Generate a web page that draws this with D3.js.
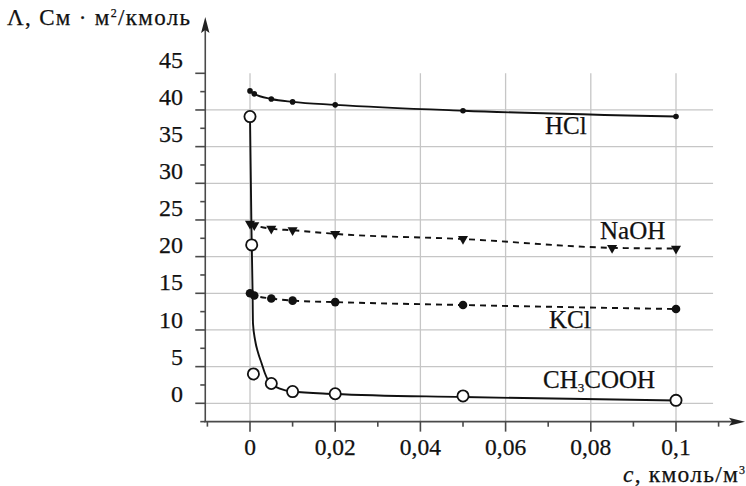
<!DOCTYPE html>
<html><head><meta charset="utf-8">
<script src="https://cdn.jsdelivr.net/npm/d3@7"></script>
<style>html,body{margin:0;padding:0;background:#fff;}svg{display:block;}</style>
</head><body>
<svg id="c" width="746" height="486"></svg>
<script>
// ---- data ----
const xTickValues = [-0.01, 0, 0.01, 0.02, 0.03, 0.04, 0.05, 0.06, 0.07, 0.08, 0.09, 0.1, 0.11];
const xLabelValues = [0, 0.02, 0.04, 0.06, 0.08, 0.1];
const xLabelTexts = ["0", "0,02", "0,04", "0,06", "0,08", "0,1"];
const yTickValues = [-2.5, 0, 2.5, 5, 7.5, 10, 12.5, 15, 17.5, 20, 22.5, 25, 27.5, 30, 32.5, 35, 37.5, 40, 42.5, 45];
const yLabelValues = [0, 5, 10, 15, 20, 25, 30, 35, 40, 45];
const yGridValues = [0, 5, 10, 15, 20, 25, 30, 35, 40];

const hclC  = [0, 0.001, 0.005, 0.01, 0.02, 0.05, 0.1];
const hclL  = [42.6, 42.2, 41.5, 41.1, 40.7, 39.9, 39.1];
const naohC = [0, 0.001, 0.005, 0.01, 0.02, 0.05, 0.085, 0.1];
const naohL = [24.5, 24.3, 23.8, 23.6, 23.1, 22.4, 21.2, 21.1];
const kclC  = [0, 0.001, 0.005, 0.01, 0.02, 0.05, 0.1];
const kclL  = [15.0, 14.7, 14.3, 14.0, 13.8, 13.4, 12.85];
const acC   = [0, 0.0004, 0.0008, 0.005, 0.01, 0.02, 0.05, 0.1];
const acL   = [39.1, 21.6, 4.0, 2.7, 1.6, 1.3, 1.0, 0.4];
// smooth fitted curve for CH3COOH
const acFitC = [0, 0.00035, 0.0006, 0.0007, 0.0012, 0.0019, 0.0027, 0.0035, 0.0042, 0.0049, 0.007, 0.0098, 0.0198, 0.05, 0.1];
const acFitL = [39.1, 23.6, 15.4, 10.9, 8.6, 6.9, 5.5, 4.1, 3.2, 2.7, 2.0, 1.6, 1.27, 0.85, 0.38];

// ---- drawing ----
const svg = d3.select("#c");
const SERIF = "Liberation Serif, serif";
const x = d3.scaleLinear().domain([0, 0.1]).range([250, 676]);
const y = d3.scaleLinear().domain([0, 45]).range([403.3, 73.3]);
const yLab = d3.scaleLinear().domain([0, 45]).range([401.7, 68]); // label baselines (offset in original)
const axisColor = "#4a4a4a", gridColor = "#c6c6c6", ink = "#111";

const xAxisY = y(-2.5), yAxisX = x(-0.0105);
const gridRight = x(0.1087), gridTop = y(45);

// grid
svg.append("g").selectAll("line").data(yGridValues).join("line")
  .attr("x1", yAxisX).attr("x2", gridRight).attr("y1", d => y(d)).attr("y2", d => y(d))
  .attr("stroke", gridColor).attr("stroke-width", 1.3);
svg.append("g").selectAll("line").data(xLabelValues).join("line")
  .attr("x1", d => x(d)).attr("x2", d => x(d)).attr("y1", gridTop).attr("y2", xAxisY)
  .attr("stroke", gridColor).attr("stroke-width", 1.3);

// axes lines
svg.append("line").attr("x1", yAxisX).attr("x2", yAxisX).attr("y1", 30).attr("y2", xAxisY)
  .attr("stroke", axisColor).attr("stroke-width", 1.6);
svg.append("line").attr("x1", yAxisX - 1).attr("x2", 733).attr("y1", xAxisY).attr("y2", xAxisY)
  .attr("stroke", axisColor).attr("stroke-width", 1.6);
// arrowheads
svg.append("path").attr("d", `M${yAxisX},17 L${yAxisX + 4.2},33 L${yAxisX},30 L${yAxisX - 4.2},33 Z`).attr("fill", "#222");
svg.append("path").attr("d", `M745,${xAxisY} L729,${xAxisY - 4} L732,${xAxisY} L729,${xAxisY + 4} Z`).attr("fill", "#222");

// ticks
const isMajorY = d => Math.abs(d / 5 - Math.round(d / 5)) < 1e-6;
svg.append("g").selectAll("line").data(yTickValues).join("line")
  .attr("x1", d => yAxisX - (isMajorY(d) ? 10 : 5)).attr("x2", yAxisX)
  .attr("y1", d => y(d)).attr("y2", d => y(d))
  .attr("stroke", axisColor).attr("stroke-width", 1.6);
const isMajorX = d => Math.abs(d / 0.02 - Math.round(d / 0.02)) < 1e-6;
svg.append("g").selectAll("line").data(xTickValues).join("line")
  .attr("x1", d => x(d)).attr("x2", d => x(d))
  .attr("y1", xAxisY).attr("y2", d => xAxisY + (isMajorX(d) ? 10 : 5))
  .attr("stroke", axisColor).attr("stroke-width", 1.6);

const txt = sel => sel.attr("font-family", SERIF).attr("fill", ink).attr("stroke", ink).attr("stroke-width", 0.25);

// tick labels
txt(svg.append("g").selectAll("text").data(yLabelValues).join("text")
  .attr("x", 183).attr("y", d => yLab(d)).attr("text-anchor", "end")
  .attr("font-size", 24).text(d => d));
txt(svg.append("g").selectAll("text").data(xLabelValues).join("text")
  .attr("x", d => x(d)).attr("y", 455).attr("text-anchor", "middle")
  .attr("font-size", 23.5).text((d, i) => xLabelTexts[i]));

// axis titles
const yt = txt(svg.append("text").attr("x", 7).attr("y", 25).attr("font-size", 23)
  .attr("textLength", 183).attr("lengthAdjust", "spacing"));
yt.append("tspan").text("Λ, См · м");
yt.append("tspan").attr("font-size", 12).attr("dy", -8).text("2");
yt.append("tspan").attr("dy", 8).text("/кмоль");
const xt = txt(svg.append("text").attr("x", 745).attr("y", 482).attr("text-anchor", "end").attr("font-size", 23.5)
  .attr("textLength", 122).attr("lengthAdjust", "spacing"));
xt.append("tspan").attr("font-style", "italic").text("c");
xt.append("tspan").text(", кмоль/м");
xt.append("tspan").attr("font-size", 12).attr("dy", -8).text("3");

// lines
const line = d3.line().x(d => x(d[0])).y(d => y(d[1])).curve(d3.curveMonotoneX);
const zip = (a, b) => a.map((v, i) => [v, b[i]]);
svg.append("path").attr("d", line(zip(hclC, hclL))).attr("fill", "none").attr("stroke", ink).attr("stroke-width", 1.9);
svg.append("path").attr("d", line(zip(naohC, naohL))).attr("fill", "none").attr("stroke", ink).attr("stroke-width", 1.9).attr("stroke-dasharray", "6,5");
svg.append("path").attr("d", line(zip(kclC, kclL))).attr("fill", "none").attr("stroke", ink).attr("stroke-width", 1.9).attr("stroke-dasharray", "6,5");
svg.append("path").attr("d", line(zip(acFitC, acFitL))).attr("fill", "none").attr("stroke", ink).attr("stroke-width", 1.9);

// markers
svg.append("g").selectAll("circle").data(zip(hclC, hclL)).join("circle")
  .attr("cx", d => x(d[0])).attr("cy", d => y(d[1])).attr("r", 2.8).attr("fill", ink);
svg.append("g").selectAll("path").data(zip(naohC, naohL)).join("path")
  .attr("d", d3.symbol(d3.symbolTriangle, 44)())
  .attr("transform", d => `translate(${x(d[0])},${y(d[1])}) rotate(180)`).attr("fill", ink);
svg.append("g").selectAll("circle").data(zip(kclC, kclL)).join("circle")
  .attr("cx", d => x(d[0])).attr("cy", d => y(d[1])).attr("r", 4.3).attr("fill", ink);
svg.append("g").selectAll("circle").data(zip(acC, acL)).join("circle")
  .attr("cx", d => x(d[0])).attr("cy", d => y(d[1])).attr("r", 5.6)
  .attr("fill", "#fff").attr("stroke", ink).attr("stroke-width", 1.8);

// series labels
const lab = (tx, ty) => txt(svg.append("text").attr("x", tx).attr("y", ty).attr("font-size", 25));
lab(545, 134).text("HCl");
lab(600, 239).text("NaOH");
lab(549, 328).text("KCl");
const ac = lab(543, 388);
ac.append("tspan").text("CH");
ac.append("tspan").attr("font-size", 13).attr("dy", 4).text("3");
ac.append("tspan").attr("dy", -4).text("COOH");
</script>
</body></html>
